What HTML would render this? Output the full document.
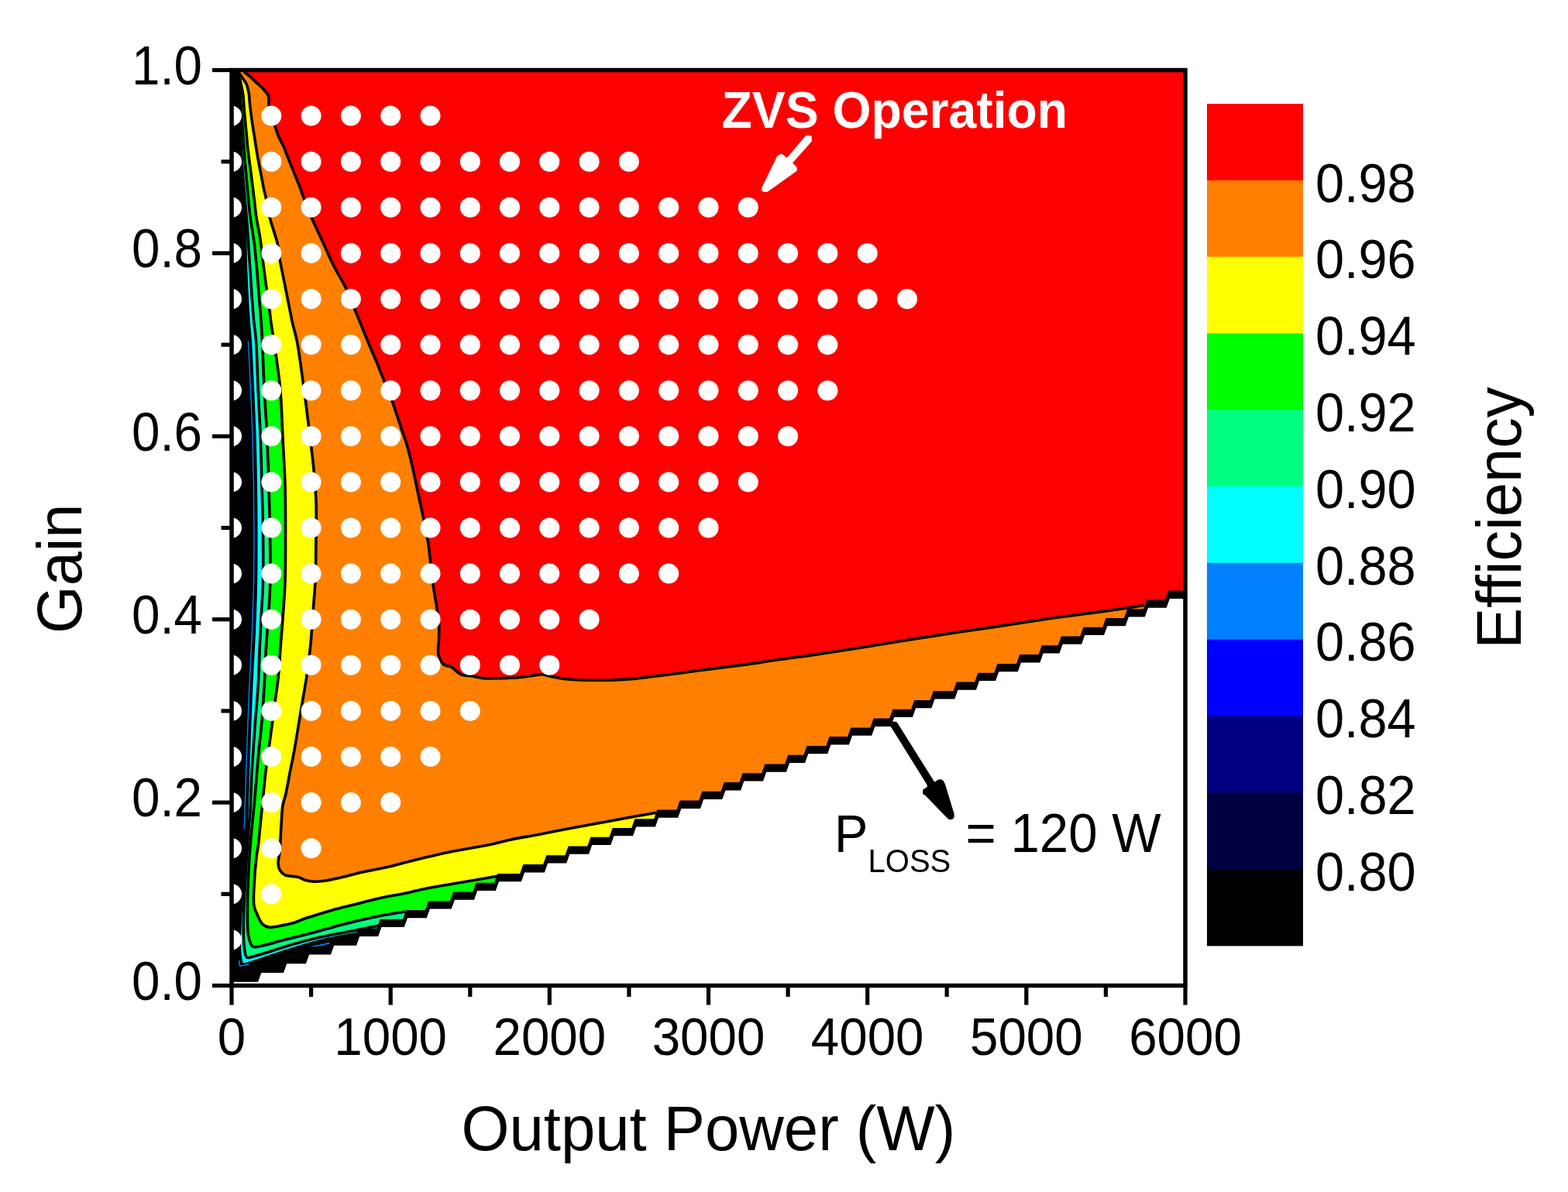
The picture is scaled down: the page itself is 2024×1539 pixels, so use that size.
<!DOCTYPE html><html><head><meta charset="utf-8"><title>Efficiency contour</title><style>html,body{margin:0;padding:0;background:#fff;overflow:hidden}svg{display:block}</style></head><body><svg width="2024" height="1539" viewBox="0 0 2024 1539">
<defs><clipPath id="pc"><rect x="300" y="91" width="1229" height="1180"/></clipPath></defs>
<rect x="0" y="0" width="2024" height="1539" fill="#fff"/>
<g clip-path="url(#pc)">
<rect x="300" y="91" width="1229" height="1180" fill="#ff0000"/>
<path d="M300,91 L315.0,93.0  C317.4,94.8 320.0,96.5 322.3,98.4 C324.6,100.3 326.6,102.6 328.8,104.6 C331.0,106.7 333.7,108.8 335.7,110.7 C337.4,112.3 338.7,113.7 340.2,115.3 C341.7,117.0 343.4,118.8 344.5,120.5 C345.5,122.0 346.3,123.1 346.8,125.0 C347.5,127.6 346.6,131.5 347.0,135.0 C347.5,139.1 348.7,143.5 350.0,148.0 C351.4,152.9 353.4,158.4 355.1,163.3 C356.6,167.8 357.8,172.0 359.6,176.3 C361.4,180.7 364.1,184.9 366.1,189.3 C368.0,193.6 369.6,198.0 371.3,202.3 C373.0,206.6 374.8,211.0 376.5,215.3 C378.2,219.6 380.0,224.0 381.7,228.3 C383.4,232.6 385.3,236.9 386.9,241.2 C388.5,245.5 389.6,249.2 391.5,254.2 C394.2,261.4 397.9,270.9 401.8,280.0 C406.3,290.6 412.4,303.2 417.4,314.0 C421.9,323.9 425.7,333.1 430.4,342.5 C435.2,352.1 441.3,361.2 446.0,371.0 C450.8,381.0 454.5,391.1 459.0,402.0 C464.0,414.0 469.7,428.5 474.5,440.0 C478.4,449.5 481.9,457.3 485.5,466.0 C489.1,474.6 492.4,483.3 495.9,492.0 C499.4,500.7 503.3,509.9 506.3,518.0 C508.8,524.9 510.6,531.0 512.8,537.5 C515.0,544.0 517.1,550.5 519.3,557.0 C521.5,563.5 523.8,569.5 525.8,576.5 C528.1,584.5 530.1,592.9 532.3,602.4 C534.9,613.7 537.8,628.3 540.3,640.0 C542.5,650.2 544.5,659.0 546.5,668.7 C548.5,678.7 550.8,689.2 552.4,699.1 C553.9,708.3 554.6,717.0 555.7,726.1 C556.8,735.5 557.7,745.1 559.1,754.9 C560.5,765.3 562.9,777.5 564.2,787.0 C565.3,794.5 566.3,800.7 566.7,807.2 C567.0,813.3 566.6,818.9 566.5,825.0 C566.4,831.5 564.6,839.4 565.9,845.2 C567.0,850.1 569.5,855.2 572.6,857.9 C575.3,860.2 579.4,859.5 582.8,861.3 C586.8,863.4 590.1,868.6 594.6,870.6 C599.1,872.6 604.9,872.2 609.8,873.1 C614.4,873.9 618.1,875.1 623.3,875.6 C630.1,876.2 639.3,875.7 647.0,875.6 C654.4,875.5 661.7,875.4 668.9,874.8 C676.0,874.2 684.2,872.6 690.0,871.9 C694.1,871.4 697.0,870.6 700.4,870.8 C703.9,871.0 707.1,872.5 710.8,873.3 C715.2,874.2 720.2,875.3 725.0,876.0 C729.9,876.7 734.7,877.1 739.8,877.5 C745.1,877.9 750.5,878.1 756.0,878.2 C761.6,878.3 767.3,878.3 773.0,878.3 C778.7,878.3 784.6,878.3 790.0,878.1 C794.9,877.9 799.3,877.7 804.1,877.4 C809.2,877.1 814.8,876.6 820.0,876.1 C825.2,875.6 829.9,875.0 835.3,874.4 C841.5,873.7 848.3,872.7 855.0,871.9 C862.1,871.0 868.4,870.3 876.8,869.2 C888.4,867.7 904.5,865.4 918.3,863.6 C932.1,861.8 946.0,860.3 959.8,858.4 C973.6,856.5 987.5,854.2 1001.3,852.2 C1015.1,850.2 1027.9,848.7 1042.8,846.6 C1060.3,844.1 1079.0,841.3 1100.0,838.0 C1126.0,833.9 1158.0,828.4 1187.0,823.9 C1216.0,819.4 1244.9,815.2 1273.9,810.9 C1302.9,806.5 1334.0,801.6 1360.9,797.8 C1384.2,794.5 1406.6,791.9 1426.1,789.1 C1442.1,786.8 1461.6,783.9 1469.6,782.6 C1472.7,782.1 1473.9,781.9 1476.0,781.5 L1476.0,1300 L300,1300 Z" fill="#ff8000"/>
<path d="M300,91 L307.5,93.0  C308.5,94.3 309.5,95.6 310.5,97.0 C311.5,98.4 312.5,100.0 313.5,101.4 C314.4,102.7 315.2,103.7 316.0,105.0 C316.9,106.4 317.8,107.7 318.5,109.5 C319.4,111.7 320.0,115.0 320.5,117.3 C320.9,119.2 321.3,120.7 321.5,122.5 C321.8,124.5 321.8,126.8 322.0,129.0 C322.2,131.2 322.4,133.3 322.6,135.5 C322.8,137.7 323.0,139.8 323.3,142.0 C323.6,144.1 323.9,146.0 324.2,148.4 C324.6,151.3 325.0,154.9 325.5,158.2 C326.0,161.4 326.5,164.8 327.0,167.9 C327.4,170.6 327.9,173.0 328.3,175.7 C328.7,178.5 329.2,181.6 329.6,184.2 C329.9,186.3 330.1,187.6 330.5,190.0 C331.1,193.8 332.1,200.1 333.0,204.9 C333.8,209.4 334.7,213.6 335.5,217.9 C336.3,222.2 337.2,226.6 338.0,230.9 C338.8,235.2 339.6,239.7 340.5,243.8 C341.3,247.5 342.1,249.9 343.0,254.2 C344.4,260.9 346.0,271.8 348.0,280.0 C349.9,287.7 352.8,296.0 354.6,302.1 C355.9,306.4 356.9,308.8 357.9,313.1 C359.3,319.2 360.0,328.4 361.2,335.2 C362.2,341.1 363.3,345.9 364.5,351.8 C365.9,358.6 367.4,366.5 368.9,373.9 C370.4,381.3 371.8,388.6 373.3,396.0 C374.8,403.4 376.1,410.8 377.8,418.1 C379.5,425.5 381.5,431.2 383.3,440.2 C386.0,453.8 388.6,474.7 391.0,492.0 C393.4,509.3 395.5,525.9 397.7,544.0 C400.1,563.8 403.2,587.3 405.0,606.0 C406.5,621.3 407.5,634.1 408.0,648.0 C408.5,661.7 408.1,674.0 408.0,689.0 C407.8,707.3 407.8,731.6 407.0,750.0 C406.3,765.2 404.9,777.7 403.9,791.6 C402.9,805.4 402.2,819.3 400.8,833.1 C399.4,847.0 397.5,861.9 395.6,874.7 C394.0,885.8 392.1,895.4 390.4,905.8 C388.7,916.2 386.9,926.6 385.2,937.0 C383.5,947.4 381.9,957.8 380.0,968.2 C378.1,978.6 375.8,989.4 373.8,999.4 C372.0,1008.7 370.3,1019.0 368.6,1026.4 C367.4,1031.7 365.9,1034.7 365.0,1040.0 C363.8,1047.2 363.6,1056.8 363.0,1066.0 C362.3,1076.2 361.9,1089.4 361.1,1098.5 C360.5,1105.1 358.8,1110.9 359.1,1115.4 C359.3,1118.5 359.8,1120.9 361.1,1123.2 C362.5,1125.7 364.6,1128.2 367.6,1129.7 C371.7,1131.8 379.8,1131.0 384.5,1132.3 C388.1,1133.3 390.4,1135.2 393.6,1136.2 C396.9,1137.2 400.3,1137.9 404.0,1138.1 C408.1,1138.4 412.0,1138.1 417.0,1137.5 C424.2,1136.6 434.4,1134.2 443.0,1132.3 C451.7,1130.3 459.9,1127.9 469.0,1125.8 C479.1,1123.5 490.3,1121.8 501.0,1119.3 C512.0,1116.8 523.2,1113.4 534.3,1110.7 C545.2,1108.0 556.1,1105.4 567.0,1103.0 C577.9,1100.6 588.7,1098.6 599.6,1096.5 C610.5,1094.4 621.8,1092.7 632.2,1090.5 C641.9,1088.5 650.3,1085.9 660.0,1083.9 C670.4,1081.7 681.7,1080.0 692.6,1077.9 C703.5,1075.8 714.3,1073.5 725.2,1071.4 C736.1,1069.3 746.9,1067.4 757.8,1065.4 C768.7,1063.4 779.5,1061.5 790.4,1059.5 C801.3,1057.5 813.0,1055.3 823.0,1053.5 C831.6,1052.0 839.0,1050.7 847.0,1049.3 L847.0,1300 L300,1300 Z" fill="#ffff00"/>
<path d="M300,91 L309.5,101.0  C310.3,104.9 311.3,109.0 312.0,112.7 C312.7,116.1 313.3,119.0 313.8,122.5 C314.3,126.5 314.5,131.2 314.8,135.5 C315.1,139.8 315.4,144.1 315.8,148.4 C316.2,152.7 316.6,157.1 317.0,161.4 C317.4,165.7 317.9,169.9 318.3,174.4 C318.8,179.4 319.1,184.9 319.6,190.0 C320.1,195.1 320.9,200.0 321.5,205.0 C322.2,210.0 322.8,214.6 323.5,220.0 C324.3,226.2 325.2,233.3 326.0,240.0 C326.8,246.7 327.7,253.3 328.5,260.0 C329.3,266.7 329.7,272.8 330.8,280.0 C332.1,288.5 334.4,298.4 335.8,307.6 C337.2,316.8 337.9,325.6 339.1,335.2 C340.4,345.8 342.1,357.8 343.5,368.4 C344.8,378.0 346.3,387.3 347.4,396.0 C348.4,403.8 349.1,410.8 350.1,418.1 C351.1,425.4 352.2,430.8 353.5,440.0 C355.7,455.4 359.8,481.2 361.7,502.0 C363.6,522.9 363.9,544.1 365.0,565.0 C366.0,585.7 367.4,606.3 368.0,627.0 C368.6,647.7 368.5,668.4 368.5,689.0 C368.5,709.4 368.6,731.6 368.0,750.0 C367.5,765.2 366.5,777.7 365.5,791.6 C364.6,805.4 363.3,819.3 362.3,833.1 C361.2,847.0 360.5,861.9 359.2,874.7 C358.0,885.8 356.4,895.4 355.0,905.8 C353.6,916.2 352.4,926.6 351.0,937.0 C349.6,947.4 348.2,957.8 346.8,968.2 C345.4,978.6 343.8,989.0 342.6,999.4 C341.4,1009.8 340.5,1020.3 339.5,1030.5 C338.5,1040.5 337.5,1050.1 336.5,1060.0 C335.5,1070.0 334.5,1081.7 333.5,1090.0 C332.8,1095.9 331.9,1098.8 331.2,1105.0 C330.0,1114.9 328.5,1132.3 328.0,1144.0 C327.6,1153.5 326.7,1163.1 328.0,1170.0 C328.9,1174.8 330.7,1177.9 332.5,1181.7 C334.4,1185.6 336.1,1190.7 339.0,1193.3 C341.5,1195.5 344.9,1196.7 348.1,1197.2 C351.4,1197.7 354.4,1196.6 358.5,1195.9 C364.4,1194.9 373.7,1193.2 380.0,1191.3 C385.2,1189.7 389.2,1187.4 393.8,1185.8 C398.4,1184.2 402.3,1183.2 407.7,1181.6 C415.3,1179.3 426.1,1175.8 435.3,1173.3 C444.5,1170.8 453.8,1168.7 463.0,1166.4 C472.2,1164.1 483.0,1161.2 490.7,1159.5 C496.1,1158.3 499.8,1157.6 504.5,1156.7 C509.5,1155.8 514.2,1155.2 520.0,1154.0 C527.4,1152.5 536.2,1150.1 545.2,1148.2 C555.3,1146.1 566.9,1144.1 577.8,1142.2 C588.7,1140.3 599.6,1138.5 610.4,1136.7 C621.0,1134.9 631.5,1133.1 642.0,1131.3 L642.0,1300 L300,1300 Z" fill="#00ff00"/>
<path d="M300,91 L310.5,128.0  C311.0,135.7 311.5,143.7 312.0,151.0 C312.5,157.6 313.0,163.6 313.5,170.0 C314.0,176.6 314.3,182.8 314.8,190.0 C315.4,198.6 316.2,208.4 317.0,218.0 C317.9,228.3 319.0,239.5 320.0,250.0 C321.0,260.2 321.7,269.8 323.0,280.0 C324.4,290.8 326.6,302.0 328.0,313.1 C329.4,324.1 330.4,335.2 331.4,346.3 C332.4,357.3 333.2,368.4 334.1,379.4 C335.0,390.5 336.1,402.1 336.9,412.6 C337.6,422.2 338.0,429.1 338.5,440.0 C339.3,456.1 340.0,480.0 341.0,500.0 C342.0,520.0 343.5,539.4 344.5,560.0 C345.5,581.7 346.3,605.1 347.0,627.0 C347.6,648.1 348.2,668.4 348.5,689.0 C348.8,709.4 349.2,731.6 348.8,750.0 C348.5,765.2 347.7,777.7 346.8,791.6 C345.9,805.4 344.5,819.3 343.6,833.1 C342.7,847.0 342.4,860.1 341.6,874.7 C340.7,891.0 339.8,909.3 338.4,926.6 C337.0,943.9 334.8,960.9 333.2,978.6 C331.5,997.0 330.0,1018.4 328.5,1035.0 C327.3,1048.1 326.1,1058.3 325.0,1070.0 C323.9,1081.7 322.9,1091.5 322.1,1105.0 C321.0,1123.3 319.6,1151.1 319.5,1170.0 C319.5,1184.7 318.8,1199.6 320.8,1209.0 C322.0,1214.6 323.3,1220.1 326.0,1222.0 C328.0,1223.4 330.4,1222.4 333.8,1222.0 C340.8,1221.1 354.0,1216.9 365.0,1214.1 C377.3,1211.0 391.0,1207.6 404.0,1204.2 C417.0,1200.8 430.0,1196.8 443.0,1193.5 C456.0,1190.2 471.5,1186.6 482.0,1184.3 C489.1,1182.8 493.6,1181.9 500.0,1180.8 C507.2,1179.5 515.3,1178.3 523.0,1177.0 L523.0,1300 L300,1300 Z" fill="#00ff80"/>
<path d="M300,91 L311.0,200.0  C312.5,216.7 314.1,234.3 315.5,250.0 C316.7,264.1 317.9,275.5 319.0,290.0 C320.3,307.1 321.4,326.6 322.7,346.0 C324.1,367.1 325.8,394.7 327.4,412.0 C328.4,423.3 329.7,428.9 330.5,440.0 C331.7,456.2 332.1,480.0 333.0,500.0 C333.9,520.0 335.2,539.4 336.0,560.0 C336.9,581.7 337.4,605.1 338.0,627.0 C338.6,648.1 339.3,668.4 339.5,689.0 C339.7,709.4 340.0,731.6 339.5,750.0 C339.1,765.2 338.1,777.7 337.4,791.6 C336.7,805.4 336.0,818.5 335.3,833.1 C334.6,849.4 334.2,867.7 333.2,885.0 C332.2,902.3 330.4,918.9 329.1,937.0 C327.7,956.8 326.0,980.8 325.0,999.4 C324.2,1014.4 324.1,1027.5 323.4,1040.0 C322.8,1050.8 321.9,1058.2 321.0,1070.0 C319.8,1086.8 318.0,1110.3 316.9,1131.0 C315.8,1152.3 314.3,1178.6 314.3,1196.0 C314.3,1207.6 314.4,1217.7 315.5,1225.0 C316.2,1229.6 316.4,1234.5 318.5,1236.0 C320.1,1237.1 322.5,1236.0 325.0,1235.5 C328.8,1234.8 333.2,1233.2 339.0,1231.5 C348.8,1228.6 365.0,1223.0 378.0,1219.3 C391.0,1215.6 404.0,1212.2 417.0,1209.3 C430.0,1206.4 443.6,1204.3 456.0,1201.8 C467.3,1199.5 481.4,1196.7 488.4,1195.0 C491.8,1194.2 493.5,1193.7 496.0,1193.0 L496.0,1300 L300,1300 Z" fill="#00ffff"/>
<path d="M300,91 L307.5,91.0  C308.2,93.0 309.0,95.2 309.5,97.0 C309.9,98.5 310.2,99.4 310.5,101.0 C310.9,103.4 311.1,106.9 311.3,110.0 C311.6,113.2 311.9,116.9 312.0,120.0 C312.1,122.8 312.3,125.1 312.2,128.0 C312.1,131.6 311.2,136.1 311.0,140.0 C310.8,143.7 310.9,146.8 311.0,151.0 C311.1,156.5 311.7,163.6 312.0,170.0 C312.3,176.6 312.6,182.8 313.0,190.0 C313.4,198.6 313.9,208.4 314.5,218.0 C315.1,228.3 315.9,239.5 316.5,250.0 C317.1,260.2 317.6,268.1 318.0,280.0 C318.6,297.7 318.5,324.0 319.3,346.0 C320.1,368.0 321.5,394.7 322.7,412.0 C323.5,423.3 324.3,428.9 325.0,440.0 C326.1,456.2 327.1,480.0 328.0,500.0 C328.9,520.0 329.8,539.4 330.5,560.0 C331.2,581.7 331.7,605.1 332.0,627.0 C332.3,648.1 332.5,668.4 332.5,689.0 C332.5,709.4 332.6,729.6 332.2,750.0 C331.8,770.7 331.1,790.0 330.2,812.3 C329.1,838.0 327.2,867.8 326.0,895.5 C324.8,923.2 323.9,950.3 322.9,978.6 C321.8,1008.3 321.1,1042.4 319.8,1069.8 C318.7,1092.2 317.3,1110.8 316.0,1131.0 C314.7,1150.8 312.8,1173.3 312.0,1190.0 C311.4,1202.3 310.7,1213.2 311.0,1222.0 C311.2,1228.3 311.8,1234.2 312.5,1238.0 C312.9,1240.2 312.8,1242.3 314.0,1243.0 C315.2,1243.8 317.4,1242.6 320.0,1242.0 C324.7,1240.8 332.3,1238.0 340.0,1235.5 C350.7,1232.0 365.2,1226.9 378.0,1223.0 C390.9,1219.1 403.8,1215.2 417.0,1212.0 C430.4,1208.8 448.4,1205.7 458.0,1204.0 C463.2,1203.1 466.0,1202.7 470.0,1202.0 L470.0,1300 L300,1300 Z" fill="#000000"/>
<polyline points="320.4,440.0 323.4,500.0 325.9,560.0 327.4,627.0 327.9,689.0 327.6,750.0 325.6,812.3 321.4,895.5 318.3,978.6 315.2,1069.8" fill="none" stroke="#0080ff" stroke-width="1.4"/>
<polyline points="308.5,1240 309.5,1247 315,1246.5 321,1244.5" fill="none" stroke="#0080ff" stroke-width="1.6"/>
<polyline points="400.5,1222.8 412,1220.6 425.5,1217.6" fill="none" stroke="#0080ff" stroke-width="1.8"/>
<polyline points="315.6,240.0 317.6,270.0 319.8,300.0 320.6,346.0 323.5,400.0" fill="none" stroke="#00ffff" stroke-width="1.6"/>
<path d="M315.0,93.0 C317.4,94.8 320.0,96.5 322.3,98.4 C324.6,100.3 326.6,102.6 328.8,104.6 C331.0,106.7 333.7,108.8 335.7,110.7 C337.4,112.3 338.7,113.7 340.2,115.3 C341.7,117.0 343.4,118.8 344.5,120.5 C345.5,122.0 346.3,123.1 346.8,125.0 C347.5,127.6 346.6,131.5 347.0,135.0 C347.5,139.1 348.7,143.5 350.0,148.0 C351.4,152.9 353.4,158.4 355.1,163.3 C356.6,167.8 357.8,172.0 359.6,176.3 C361.4,180.7 364.1,184.9 366.1,189.3 C368.0,193.6 369.6,198.0 371.3,202.3 C373.0,206.6 374.8,211.0 376.5,215.3 C378.2,219.6 380.0,224.0 381.7,228.3 C383.4,232.6 385.3,236.9 386.9,241.2 C388.5,245.5 389.6,249.2 391.5,254.2 C394.2,261.4 397.9,270.9 401.8,280.0 C406.3,290.6 412.4,303.2 417.4,314.0 C421.9,323.9 425.7,333.1 430.4,342.5 C435.2,352.1 441.3,361.2 446.0,371.0 C450.8,381.0 454.5,391.1 459.0,402.0 C464.0,414.0 469.7,428.5 474.5,440.0 C478.4,449.5 481.9,457.3 485.5,466.0 C489.1,474.6 492.4,483.3 495.9,492.0 C499.4,500.7 503.3,509.9 506.3,518.0 C508.8,524.9 510.6,531.0 512.8,537.5 C515.0,544.0 517.1,550.5 519.3,557.0 C521.5,563.5 523.8,569.5 525.8,576.5 C528.1,584.5 530.1,592.9 532.3,602.4 C534.9,613.7 537.8,628.3 540.3,640.0 C542.5,650.2 544.5,659.0 546.5,668.7 C548.5,678.7 550.8,689.2 552.4,699.1 C553.9,708.3 554.6,717.0 555.7,726.1 C556.8,735.5 557.7,745.1 559.1,754.9 C560.5,765.3 562.9,777.5 564.2,787.0 C565.3,794.5 566.3,800.7 566.7,807.2 C567.0,813.3 566.6,818.9 566.5,825.0 C566.4,831.5 564.6,839.4 565.9,845.2 C567.0,850.1 569.5,855.2 572.6,857.9 C575.3,860.2 579.4,859.5 582.8,861.3 C586.8,863.4 590.1,868.6 594.6,870.6 C599.1,872.6 604.9,872.2 609.8,873.1 C614.4,873.9 618.1,875.1 623.3,875.6 C630.1,876.2 639.3,875.7 647.0,875.6 C654.4,875.5 661.7,875.4 668.9,874.8 C676.0,874.2 684.2,872.6 690.0,871.9 C694.1,871.4 697.0,870.6 700.4,870.8 C703.9,871.0 707.1,872.5 710.8,873.3 C715.2,874.2 720.2,875.3 725.0,876.0 C729.9,876.7 734.7,877.1 739.8,877.5 C745.1,877.9 750.5,878.1 756.0,878.2 C761.6,878.3 767.3,878.3 773.0,878.3 C778.7,878.3 784.6,878.3 790.0,878.1 C794.9,877.9 799.3,877.7 804.1,877.4 C809.2,877.1 814.8,876.6 820.0,876.1 C825.2,875.6 829.9,875.0 835.3,874.4 C841.5,873.7 848.3,872.7 855.0,871.9 C862.1,871.0 868.4,870.3 876.8,869.2 C888.4,867.7 904.5,865.4 918.3,863.6 C932.1,861.8 946.0,860.3 959.8,858.4 C973.6,856.5 987.5,854.2 1001.3,852.2 C1015.1,850.2 1027.9,848.7 1042.8,846.6 C1060.3,844.1 1079.0,841.3 1100.0,838.0 C1126.0,833.9 1158.0,828.4 1187.0,823.9 C1216.0,819.4 1244.9,815.2 1273.9,810.9 C1302.9,806.5 1334.0,801.6 1360.9,797.8 C1384.2,794.5 1406.6,791.9 1426.1,789.1 C1442.1,786.8 1461.6,783.9 1469.6,782.6 C1472.7,782.1 1473.9,781.9 1476.0,781.5" fill="none" stroke="#000" stroke-width="3.6" stroke-linejoin="round"/>
<path d="M307.5,93.0 C308.5,94.3 309.5,95.6 310.5,97.0 C311.5,98.4 312.5,100.0 313.5,101.4 C314.4,102.7 315.2,103.7 316.0,105.0 C316.9,106.4 317.8,107.7 318.5,109.5 C319.4,111.7 320.0,115.0 320.5,117.3 C320.9,119.2 321.3,120.7 321.5,122.5 C321.8,124.5 321.8,126.8 322.0,129.0 C322.2,131.2 322.4,133.3 322.6,135.5 C322.8,137.7 323.0,139.8 323.3,142.0 C323.6,144.1 323.9,146.0 324.2,148.4 C324.6,151.3 325.0,154.9 325.5,158.2 C326.0,161.4 326.5,164.8 327.0,167.9 C327.4,170.6 327.9,173.0 328.3,175.7 C328.7,178.5 329.2,181.6 329.6,184.2 C329.9,186.3 330.1,187.6 330.5,190.0 C331.1,193.8 332.1,200.1 333.0,204.9 C333.8,209.4 334.7,213.6 335.5,217.9 C336.3,222.2 337.2,226.6 338.0,230.9 C338.8,235.2 339.6,239.7 340.5,243.8 C341.3,247.5 342.1,249.9 343.0,254.2 C344.4,260.9 346.0,271.8 348.0,280.0 C349.9,287.7 352.8,296.0 354.6,302.1 C355.9,306.4 356.9,308.8 357.9,313.1 C359.3,319.2 360.0,328.4 361.2,335.2 C362.2,341.1 363.3,345.9 364.5,351.8 C365.9,358.6 367.4,366.5 368.9,373.9 C370.4,381.3 371.8,388.6 373.3,396.0 C374.8,403.4 376.1,410.8 377.8,418.1 C379.5,425.5 381.5,431.2 383.3,440.2 C386.0,453.8 388.6,474.7 391.0,492.0 C393.4,509.3 395.5,525.9 397.7,544.0 C400.1,563.8 403.2,587.3 405.0,606.0 C406.5,621.3 407.5,634.1 408.0,648.0 C408.5,661.7 408.1,674.0 408.0,689.0 C407.8,707.3 407.8,731.6 407.0,750.0 C406.3,765.2 404.9,777.7 403.9,791.6 C402.9,805.4 402.2,819.3 400.8,833.1 C399.4,847.0 397.5,861.9 395.6,874.7 C394.0,885.8 392.1,895.4 390.4,905.8 C388.7,916.2 386.9,926.6 385.2,937.0 C383.5,947.4 381.9,957.8 380.0,968.2 C378.1,978.6 375.8,989.4 373.8,999.4 C372.0,1008.7 370.3,1019.0 368.6,1026.4 C367.4,1031.7 365.9,1034.7 365.0,1040.0 C363.8,1047.2 363.6,1056.8 363.0,1066.0 C362.3,1076.2 361.9,1089.4 361.1,1098.5 C360.5,1105.1 358.8,1110.9 359.1,1115.4 C359.3,1118.5 359.8,1120.9 361.1,1123.2 C362.5,1125.7 364.6,1128.2 367.6,1129.7 C371.7,1131.8 379.8,1131.0 384.5,1132.3 C388.1,1133.3 390.4,1135.2 393.6,1136.2 C396.9,1137.2 400.3,1137.9 404.0,1138.1 C408.1,1138.4 412.0,1138.1 417.0,1137.5 C424.2,1136.6 434.4,1134.2 443.0,1132.3 C451.7,1130.3 459.9,1127.9 469.0,1125.8 C479.1,1123.5 490.3,1121.8 501.0,1119.3 C512.0,1116.8 523.2,1113.4 534.3,1110.7 C545.2,1108.0 556.1,1105.4 567.0,1103.0 C577.9,1100.6 588.7,1098.6 599.6,1096.5 C610.5,1094.4 621.8,1092.7 632.2,1090.5 C641.9,1088.5 650.3,1085.9 660.0,1083.9 C670.4,1081.7 681.7,1080.0 692.6,1077.9 C703.5,1075.8 714.3,1073.5 725.2,1071.4 C736.1,1069.3 746.9,1067.4 757.8,1065.4 C768.7,1063.4 779.5,1061.5 790.4,1059.5 C801.3,1057.5 813.0,1055.3 823.0,1053.5 C831.6,1052.0 839.0,1050.7 847.0,1049.3" fill="none" stroke="#000" stroke-width="3.6" stroke-linejoin="round"/>
<path d="M309.5,101.0 C310.3,104.9 311.3,109.0 312.0,112.7 C312.7,116.1 313.3,119.0 313.8,122.5 C314.3,126.5 314.5,131.2 314.8,135.5 C315.1,139.8 315.4,144.1 315.8,148.4 C316.2,152.7 316.6,157.1 317.0,161.4 C317.4,165.7 317.9,169.9 318.3,174.4 C318.8,179.4 319.1,184.9 319.6,190.0 C320.1,195.1 320.9,200.0 321.5,205.0 C322.2,210.0 322.8,214.6 323.5,220.0 C324.3,226.2 325.2,233.3 326.0,240.0 C326.8,246.7 327.7,253.3 328.5,260.0 C329.3,266.7 329.7,272.8 330.8,280.0 C332.1,288.5 334.4,298.4 335.8,307.6 C337.2,316.8 337.9,325.6 339.1,335.2 C340.4,345.8 342.1,357.8 343.5,368.4 C344.8,378.0 346.3,387.3 347.4,396.0 C348.4,403.8 349.1,410.8 350.1,418.1 C351.1,425.4 352.2,430.8 353.5,440.0 C355.7,455.4 359.8,481.2 361.7,502.0 C363.6,522.9 363.9,544.1 365.0,565.0 C366.0,585.7 367.4,606.3 368.0,627.0 C368.6,647.7 368.5,668.4 368.5,689.0 C368.5,709.4 368.6,731.6 368.0,750.0 C367.5,765.2 366.5,777.7 365.5,791.6 C364.6,805.4 363.3,819.3 362.3,833.1 C361.2,847.0 360.5,861.9 359.2,874.7 C358.0,885.8 356.4,895.4 355.0,905.8 C353.6,916.2 352.4,926.6 351.0,937.0 C349.6,947.4 348.2,957.8 346.8,968.2 C345.4,978.6 343.8,989.0 342.6,999.4 C341.4,1009.8 340.5,1020.3 339.5,1030.5 C338.5,1040.5 337.5,1050.1 336.5,1060.0 C335.5,1070.0 334.5,1081.7 333.5,1090.0 C332.8,1095.9 331.9,1098.8 331.2,1105.0 C330.0,1114.9 328.5,1132.3 328.0,1144.0 C327.6,1153.5 326.7,1163.1 328.0,1170.0 C328.9,1174.8 330.7,1177.9 332.5,1181.7 C334.4,1185.6 336.1,1190.7 339.0,1193.3 C341.5,1195.5 344.9,1196.7 348.1,1197.2 C351.4,1197.7 354.4,1196.6 358.5,1195.9 C364.4,1194.9 373.7,1193.2 380.0,1191.3 C385.2,1189.7 389.2,1187.4 393.8,1185.8 C398.4,1184.2 402.3,1183.2 407.7,1181.6 C415.3,1179.3 426.1,1175.8 435.3,1173.3 C444.5,1170.8 453.8,1168.7 463.0,1166.4 C472.2,1164.1 483.0,1161.2 490.7,1159.5 C496.1,1158.3 499.8,1157.6 504.5,1156.7 C509.5,1155.8 514.2,1155.2 520.0,1154.0 C527.4,1152.5 536.2,1150.1 545.2,1148.2 C555.3,1146.1 566.9,1144.1 577.8,1142.2 C588.7,1140.3 599.6,1138.5 610.4,1136.7 C621.0,1134.9 631.5,1133.1 642.0,1131.3" fill="none" stroke="#000" stroke-width="3.6" stroke-linejoin="round"/>
<path d="M310.5,128.0 C311.0,135.7 311.5,143.7 312.0,151.0 C312.5,157.6 313.0,163.6 313.5,170.0 C314.0,176.6 314.3,182.8 314.8,190.0 C315.4,198.6 316.2,208.4 317.0,218.0 C317.9,228.3 319.0,239.5 320.0,250.0 C321.0,260.2 321.7,269.8 323.0,280.0 C324.4,290.8 326.6,302.0 328.0,313.1 C329.4,324.1 330.4,335.2 331.4,346.3 C332.4,357.3 333.2,368.4 334.1,379.4 C335.0,390.5 336.1,402.1 336.9,412.6 C337.6,422.2 338.0,429.1 338.5,440.0 C339.3,456.1 340.0,480.0 341.0,500.0 C342.0,520.0 343.5,539.4 344.5,560.0 C345.5,581.7 346.3,605.1 347.0,627.0 C347.6,648.1 348.2,668.4 348.5,689.0 C348.8,709.4 349.2,731.6 348.8,750.0 C348.5,765.2 347.7,777.7 346.8,791.6 C345.9,805.4 344.5,819.3 343.6,833.1 C342.7,847.0 342.4,860.1 341.6,874.7 C340.7,891.0 339.8,909.3 338.4,926.6 C337.0,943.9 334.8,960.9 333.2,978.6 C331.5,997.0 330.0,1018.4 328.5,1035.0 C327.3,1048.1 326.1,1058.3 325.0,1070.0 C323.9,1081.7 322.9,1091.5 322.1,1105.0 C321.0,1123.3 319.6,1151.1 319.5,1170.0 C319.5,1184.7 318.8,1199.6 320.8,1209.0 C322.0,1214.6 323.3,1220.1 326.0,1222.0 C328.0,1223.4 330.4,1222.4 333.8,1222.0 C340.8,1221.1 354.0,1216.9 365.0,1214.1 C377.3,1211.0 391.0,1207.6 404.0,1204.2 C417.0,1200.8 430.0,1196.8 443.0,1193.5 C456.0,1190.2 471.5,1186.6 482.0,1184.3 C489.1,1182.8 493.6,1181.9 500.0,1180.8 C507.2,1179.5 515.3,1178.3 523.0,1177.0" fill="none" stroke="#000" stroke-width="3.6" stroke-linejoin="round"/>
<path d="M311.0,200.0 C312.5,216.7 314.1,234.3 315.5,250.0 C316.7,264.1 317.9,275.5 319.0,290.0 C320.3,307.1 321.4,326.6 322.7,346.0 C324.1,367.1 325.8,394.7 327.4,412.0 C328.4,423.3 329.7,428.9 330.5,440.0 C331.7,456.2 332.1,480.0 333.0,500.0 C333.9,520.0 335.2,539.4 336.0,560.0 C336.9,581.7 337.4,605.1 338.0,627.0 C338.6,648.1 339.3,668.4 339.5,689.0 C339.7,709.4 340.0,731.6 339.5,750.0 C339.1,765.2 338.1,777.7 337.4,791.6 C336.7,805.4 336.0,818.5 335.3,833.1 C334.6,849.4 334.2,867.7 333.2,885.0 C332.2,902.3 330.4,918.9 329.1,937.0 C327.7,956.8 326.0,980.8 325.0,999.4 C324.2,1014.4 324.1,1027.5 323.4,1040.0 C322.8,1050.8 321.9,1058.2 321.0,1070.0 C319.8,1086.8 318.0,1110.3 316.9,1131.0 C315.8,1152.3 314.3,1178.6 314.3,1196.0 C314.3,1207.6 314.4,1217.7 315.5,1225.0 C316.2,1229.6 316.4,1234.5 318.5,1236.0 C320.1,1237.1 322.5,1236.0 325.0,1235.5 C328.8,1234.8 333.2,1233.2 339.0,1231.5 C348.8,1228.6 365.0,1223.0 378.0,1219.3 C391.0,1215.6 404.0,1212.2 417.0,1209.3 C430.0,1206.4 443.6,1204.3 456.0,1201.8 C467.3,1199.5 481.4,1196.7 488.4,1195.0 C491.8,1194.2 493.5,1193.7 496.0,1193.0" fill="none" stroke="#000" stroke-width="3.6" stroke-linejoin="round"/>
<polygon points="300.0,1257.5 331.3,1257.5 335.5,1245.7 364.2,1245.7 368.4,1233.9 393.1,1233.9 397.3,1222.2 425.2,1222.2 429.4,1210.4 458.2,1210.4 462.4,1198.6 486.4,1198.6 490.6,1186.8 520.0,1186.8 524.2,1175.0 548.9,1175.0 553.1,1163.2 580.9,1163.2 585.1,1151.5 610.2,1151.5 614.4,1139.7 638.0,1139.7 642.2,1127.9 671.1,1127.9 675.3,1116.1 701.1,1116.1 705.3,1104.3 729.4,1104.3 733.6,1092.5 758.2,1092.5 762.4,1080.8 786.5,1080.8 790.7,1069.0 815.2,1069.0 819.4,1057.2 844.1,1057.2 848.3,1045.4 873.4,1045.4 877.6,1033.6 902.2,1033.6 906.4,1021.8 930.5,1021.8 934.7,1010.1 954.4,1010.1 958.6,998.3 983.2,998.3 987.4,986.5 1013.1,986.5 1017.3,974.7 1037.3,974.7 1041.5,962.9 1066.4,962.9 1070.6,951.1 1094.1,951.1 1098.3,939.4 1123.4,939.4 1127.6,927.6 1148.2,927.6 1152.4,915.8 1176.1,915.8 1180.3,904.0 1200.6,904.0 1204.8,892.2 1230.5,892.2 1234.7,880.4 1258.2,880.4 1262.4,868.7 1283.3,868.7 1287.5,856.9 1312.0,856.9 1316.2,845.1 1340.6,845.1 1344.8,833.3 1365.7,833.3 1369.9,821.5 1394.3,821.5 1398.5,809.7 1423.3,809.7 1427.5,798.0 1450.9,798.0 1455.1,786.2 1476.0,786.2 1480.2,774.4 1503.9,774.4 1508.1,762.6 1529.0,762.6 1529.0,1300.0 300.0,1300.0" fill="#000"/>
<polygon points="300.0,1267.8 333.1,1267.8 337.3,1256.0 366.0,1256.0 370.2,1244.2 394.9,1244.2 399.1,1232.5 427.0,1232.5 431.2,1220.7 460.0,1220.7 464.2,1208.9 488.2,1208.9 492.4,1197.1 521.8,1197.1 526.0,1185.3 550.7,1185.3 554.9,1173.5 582.7,1173.5 586.9,1161.8 612.0,1161.8 616.2,1150.0 639.8,1150.0 644.0,1138.2 672.9,1138.2 677.1,1126.4 702.9,1126.4 707.1,1114.6 731.2,1114.6 735.4,1102.8 760.0,1102.8 764.2,1091.1 788.3,1091.1 792.5,1079.3 817.0,1079.3 821.2,1067.5 845.9,1067.5 850.1,1055.7 875.2,1055.7 879.4,1043.9 904.0,1043.9 908.2,1032.1 932.3,1032.1 936.5,1020.4 956.2,1020.4 960.4,1008.6 985.0,1008.6 989.2,996.8 1014.9,996.8 1019.1,985.0 1039.1,985.0 1043.3,973.2 1068.2,973.2 1072.4,961.4 1095.9,961.4 1100.1,949.7 1125.2,949.7 1129.4,937.9 1150.0,937.9 1154.2,926.1 1177.9,926.1 1182.1,914.3 1202.4,914.3 1206.6,902.5 1232.3,902.5 1236.5,890.7 1260.0,890.7 1264.2,879.0 1285.1,879.0 1289.3,867.2 1313.8,867.2 1318.0,855.4 1342.4,855.4 1346.6,843.6 1367.5,843.6 1371.7,831.8 1396.1,831.8 1400.3,820.0 1425.1,820.0 1429.3,808.3 1452.7,808.3 1456.9,796.5 1477.8,796.5 1482.0,784.7 1505.7,784.7 1509.9,772.9 1529.0,772.9 1529.0,1300.0 300.0,1300.0" fill="#fff"/>
<g fill="#fff"><circle cx="299.0" cy="149.6" r="13"/><circle cx="350.3" cy="149.6" r="13"/><circle cx="401.6" cy="149.6" r="13"/><circle cx="452.9" cy="149.6" r="13"/><circle cx="504.2" cy="149.6" r="13"/><circle cx="555.5" cy="149.6" r="13"/><circle cx="299.0" cy="208.7" r="13"/><circle cx="350.3" cy="208.7" r="13"/><circle cx="401.6" cy="208.7" r="13"/><circle cx="452.9" cy="208.7" r="13"/><circle cx="504.2" cy="208.7" r="13"/><circle cx="555.5" cy="208.7" r="13"/><circle cx="606.8" cy="208.7" r="13"/><circle cx="658.0" cy="208.7" r="13"/><circle cx="709.3" cy="208.7" r="13"/><circle cx="760.6" cy="208.7" r="13"/><circle cx="811.9" cy="208.7" r="13"/><circle cx="299.0" cy="267.8" r="13"/><circle cx="350.3" cy="267.8" r="13"/><circle cx="401.6" cy="267.8" r="13"/><circle cx="452.9" cy="267.8" r="13"/><circle cx="504.2" cy="267.8" r="13"/><circle cx="555.5" cy="267.8" r="13"/><circle cx="606.8" cy="267.8" r="13"/><circle cx="658.0" cy="267.8" r="13"/><circle cx="709.3" cy="267.8" r="13"/><circle cx="760.6" cy="267.8" r="13"/><circle cx="811.9" cy="267.8" r="13"/><circle cx="863.2" cy="267.8" r="13"/><circle cx="914.5" cy="267.8" r="13"/><circle cx="965.8" cy="267.8" r="13"/><circle cx="299.0" cy="326.9" r="13"/><circle cx="350.3" cy="326.9" r="13"/><circle cx="401.6" cy="326.9" r="13"/><circle cx="452.9" cy="326.9" r="13"/><circle cx="504.2" cy="326.9" r="13"/><circle cx="555.5" cy="326.9" r="13"/><circle cx="606.8" cy="326.9" r="13"/><circle cx="658.0" cy="326.9" r="13"/><circle cx="709.3" cy="326.9" r="13"/><circle cx="760.6" cy="326.9" r="13"/><circle cx="811.9" cy="326.9" r="13"/><circle cx="863.2" cy="326.9" r="13"/><circle cx="914.5" cy="326.9" r="13"/><circle cx="965.8" cy="326.9" r="13"/><circle cx="1017.1" cy="326.9" r="13"/><circle cx="1068.4" cy="326.9" r="13"/><circle cx="1119.7" cy="326.9" r="13"/><circle cx="299.0" cy="386.0" r="13"/><circle cx="350.3" cy="386.0" r="13"/><circle cx="401.6" cy="386.0" r="13"/><circle cx="452.9" cy="386.0" r="13"/><circle cx="504.2" cy="386.0" r="13"/><circle cx="555.5" cy="386.0" r="13"/><circle cx="606.8" cy="386.0" r="13"/><circle cx="658.0" cy="386.0" r="13"/><circle cx="709.3" cy="386.0" r="13"/><circle cx="760.6" cy="386.0" r="13"/><circle cx="811.9" cy="386.0" r="13"/><circle cx="863.2" cy="386.0" r="13"/><circle cx="914.5" cy="386.0" r="13"/><circle cx="965.8" cy="386.0" r="13"/><circle cx="1017.1" cy="386.0" r="13"/><circle cx="1068.4" cy="386.0" r="13"/><circle cx="1119.7" cy="386.0" r="13"/><circle cx="1171.0" cy="386.0" r="13"/><circle cx="299.0" cy="445.1" r="13"/><circle cx="350.3" cy="445.1" r="13"/><circle cx="401.6" cy="445.1" r="13"/><circle cx="452.9" cy="445.1" r="13"/><circle cx="504.2" cy="445.1" r="13"/><circle cx="555.5" cy="445.1" r="13"/><circle cx="606.8" cy="445.1" r="13"/><circle cx="658.0" cy="445.1" r="13"/><circle cx="709.3" cy="445.1" r="13"/><circle cx="760.6" cy="445.1" r="13"/><circle cx="811.9" cy="445.1" r="13"/><circle cx="863.2" cy="445.1" r="13"/><circle cx="914.5" cy="445.1" r="13"/><circle cx="965.8" cy="445.1" r="13"/><circle cx="1017.1" cy="445.1" r="13"/><circle cx="1068.4" cy="445.1" r="13"/><circle cx="299.0" cy="504.2" r="13"/><circle cx="350.3" cy="504.2" r="13"/><circle cx="401.6" cy="504.2" r="13"/><circle cx="452.9" cy="504.2" r="13"/><circle cx="504.2" cy="504.2" r="13"/><circle cx="555.5" cy="504.2" r="13"/><circle cx="606.8" cy="504.2" r="13"/><circle cx="658.0" cy="504.2" r="13"/><circle cx="709.3" cy="504.2" r="13"/><circle cx="760.6" cy="504.2" r="13"/><circle cx="811.9" cy="504.2" r="13"/><circle cx="863.2" cy="504.2" r="13"/><circle cx="914.5" cy="504.2" r="13"/><circle cx="965.8" cy="504.2" r="13"/><circle cx="1017.1" cy="504.2" r="13"/><circle cx="1068.4" cy="504.2" r="13"/><circle cx="299.0" cy="563.3" r="13"/><circle cx="350.3" cy="563.3" r="13"/><circle cx="401.6" cy="563.3" r="13"/><circle cx="452.9" cy="563.3" r="13"/><circle cx="504.2" cy="563.3" r="13"/><circle cx="555.5" cy="563.3" r="13"/><circle cx="606.8" cy="563.3" r="13"/><circle cx="658.0" cy="563.3" r="13"/><circle cx="709.3" cy="563.3" r="13"/><circle cx="760.6" cy="563.3" r="13"/><circle cx="811.9" cy="563.3" r="13"/><circle cx="863.2" cy="563.3" r="13"/><circle cx="914.5" cy="563.3" r="13"/><circle cx="965.8" cy="563.3" r="13"/><circle cx="1017.1" cy="563.3" r="13"/><circle cx="299.0" cy="622.4" r="13"/><circle cx="350.3" cy="622.4" r="13"/><circle cx="401.6" cy="622.4" r="13"/><circle cx="452.9" cy="622.4" r="13"/><circle cx="504.2" cy="622.4" r="13"/><circle cx="555.5" cy="622.4" r="13"/><circle cx="606.8" cy="622.4" r="13"/><circle cx="658.0" cy="622.4" r="13"/><circle cx="709.3" cy="622.4" r="13"/><circle cx="760.6" cy="622.4" r="13"/><circle cx="811.9" cy="622.4" r="13"/><circle cx="863.2" cy="622.4" r="13"/><circle cx="914.5" cy="622.4" r="13"/><circle cx="965.8" cy="622.4" r="13"/><circle cx="299.0" cy="681.5" r="13"/><circle cx="350.3" cy="681.5" r="13"/><circle cx="401.6" cy="681.5" r="13"/><circle cx="452.9" cy="681.5" r="13"/><circle cx="504.2" cy="681.5" r="13"/><circle cx="555.5" cy="681.5" r="13"/><circle cx="606.8" cy="681.5" r="13"/><circle cx="658.0" cy="681.5" r="13"/><circle cx="709.3" cy="681.5" r="13"/><circle cx="760.6" cy="681.5" r="13"/><circle cx="811.9" cy="681.5" r="13"/><circle cx="863.2" cy="681.5" r="13"/><circle cx="914.5" cy="681.5" r="13"/><circle cx="299.0" cy="740.6" r="13"/><circle cx="350.3" cy="740.6" r="13"/><circle cx="401.6" cy="740.6" r="13"/><circle cx="452.9" cy="740.6" r="13"/><circle cx="504.2" cy="740.6" r="13"/><circle cx="555.5" cy="740.6" r="13"/><circle cx="606.8" cy="740.6" r="13"/><circle cx="658.0" cy="740.6" r="13"/><circle cx="709.3" cy="740.6" r="13"/><circle cx="760.6" cy="740.6" r="13"/><circle cx="811.9" cy="740.6" r="13"/><circle cx="863.2" cy="740.6" r="13"/><circle cx="299.0" cy="799.7" r="13"/><circle cx="350.3" cy="799.7" r="13"/><circle cx="401.6" cy="799.7" r="13"/><circle cx="452.9" cy="799.7" r="13"/><circle cx="504.2" cy="799.7" r="13"/><circle cx="555.5" cy="799.7" r="13"/><circle cx="606.8" cy="799.7" r="13"/><circle cx="658.0" cy="799.7" r="13"/><circle cx="709.3" cy="799.7" r="13"/><circle cx="760.6" cy="799.7" r="13"/><circle cx="299.0" cy="858.8" r="13"/><circle cx="350.3" cy="858.8" r="13"/><circle cx="401.6" cy="858.8" r="13"/><circle cx="452.9" cy="858.8" r="13"/><circle cx="504.2" cy="858.8" r="13"/><circle cx="555.5" cy="858.8" r="13"/><circle cx="606.8" cy="858.8" r="13"/><circle cx="658.0" cy="858.8" r="13"/><circle cx="709.3" cy="858.8" r="13"/><circle cx="299.0" cy="917.9" r="13"/><circle cx="350.3" cy="917.9" r="13"/><circle cx="401.6" cy="917.9" r="13"/><circle cx="452.9" cy="917.9" r="13"/><circle cx="504.2" cy="917.9" r="13"/><circle cx="555.5" cy="917.9" r="13"/><circle cx="606.8" cy="917.9" r="13"/><circle cx="299.0" cy="977.0" r="13"/><circle cx="350.3" cy="977.0" r="13"/><circle cx="401.6" cy="977.0" r="13"/><circle cx="452.9" cy="977.0" r="13"/><circle cx="504.2" cy="977.0" r="13"/><circle cx="555.5" cy="977.0" r="13"/><circle cx="299.0" cy="1036.1" r="13"/><circle cx="350.3" cy="1036.1" r="13"/><circle cx="401.6" cy="1036.1" r="13"/><circle cx="452.9" cy="1036.1" r="13"/><circle cx="504.2" cy="1036.1" r="13"/><circle cx="299.0" cy="1095.2" r="13"/><circle cx="350.3" cy="1095.2" r="13"/><circle cx="401.6" cy="1095.2" r="13"/><circle cx="299.0" cy="1154.3" r="13"/><circle cx="350.3" cy="1154.3" r="13"/><circle cx="299.0" cy="1213.4" r="13"/></g>
</g>
<g fill="none" stroke="#000" stroke-width="5.5" stroke-linecap="butt">
<rect x="299" y="90.5" width="1231" height="1182"/>
</g>
<g stroke="#000" stroke-width="5.2"><line x1="299.0" y1="1272" x2="299.0" y2="1297.5"/><line x1="401.6" y1="1272" x2="401.6" y2="1287.0"/><line x1="504.2" y1="1272" x2="504.2" y2="1297.5"/><line x1="606.8" y1="1272" x2="606.8" y2="1287.0"/><line x1="709.3" y1="1272" x2="709.3" y2="1297.5"/><line x1="811.9" y1="1272" x2="811.9" y2="1287.0"/><line x1="914.5" y1="1272" x2="914.5" y2="1297.5"/><line x1="1017.1" y1="1272" x2="1017.1" y2="1287.0"/><line x1="1119.7" y1="1272" x2="1119.7" y2="1297.5"/><line x1="1222.2" y1="1272" x2="1222.2" y2="1287.0"/><line x1="1324.8" y1="1272" x2="1324.8" y2="1297.5"/><line x1="1427.4" y1="1272" x2="1427.4" y2="1287.0"/><line x1="1530.0" y1="1272" x2="1530.0" y2="1297.5"/><line x1="299" y1="1272.5" x2="274.0" y2="1272.5"/><line x1="299" y1="1154.3" x2="285.5" y2="1154.3"/><line x1="299" y1="1036.1" x2="274.0" y2="1036.1"/><line x1="299" y1="917.9" x2="285.5" y2="917.9"/><line x1="299" y1="799.7" x2="274.0" y2="799.7"/><line x1="299" y1="681.5" x2="285.5" y2="681.5"/><line x1="299" y1="563.3" x2="274.0" y2="563.3"/><line x1="299" y1="445.1" x2="285.5" y2="445.1"/><line x1="299" y1="326.9" x2="274.0" y2="326.9"/><line x1="299" y1="208.7" x2="285.5" y2="208.7"/><line x1="299" y1="90.5" x2="274.0" y2="90.5"/></g>
<text transform="translate(299.0,1362.0) scale(1,1.060)" font-family="'Liberation Sans', Arial, sans-serif" font-size="65.5" text-anchor="middle" fill="#000">0</text>
<text transform="translate(504.2,1362.0) scale(1,1.060)" font-family="'Liberation Sans', Arial, sans-serif" font-size="65.5" text-anchor="middle" fill="#000">1000</text>
<text transform="translate(709.3,1362.0) scale(1,1.060)" font-family="'Liberation Sans', Arial, sans-serif" font-size="65.5" text-anchor="middle" fill="#000">2000</text>
<text transform="translate(914.5,1362.0) scale(1,1.060)" font-family="'Liberation Sans', Arial, sans-serif" font-size="65.5" text-anchor="middle" fill="#000">3000</text>
<text transform="translate(1119.7,1362.0) scale(1,1.060)" font-family="'Liberation Sans', Arial, sans-serif" font-size="65.5" text-anchor="middle" fill="#000">4000</text>
<text transform="translate(1324.8,1362.0) scale(1,1.060)" font-family="'Liberation Sans', Arial, sans-serif" font-size="65.5" text-anchor="middle" fill="#000">5000</text>
<text transform="translate(1530.0,1362.0) scale(1,1.060)" font-family="'Liberation Sans', Arial, sans-serif" font-size="65.5" text-anchor="middle" fill="#000">6000</text>
<text transform="translate(261.0,1290.8) scale(1,1.080)" font-family="'Liberation Sans', Arial, sans-serif" font-size="65.5" text-anchor="end" fill="#000">0.0</text>
<text transform="translate(261.0,1054.4) scale(1,1.080)" font-family="'Liberation Sans', Arial, sans-serif" font-size="65.5" text-anchor="end" fill="#000">0.2</text>
<text transform="translate(261.0,818.0) scale(1,1.080)" font-family="'Liberation Sans', Arial, sans-serif" font-size="65.5" text-anchor="end" fill="#000">0.4</text>
<text transform="translate(261.0,581.6) scale(1,1.080)" font-family="'Liberation Sans', Arial, sans-serif" font-size="65.5" text-anchor="end" fill="#000">0.6</text>
<text transform="translate(261.0,345.2) scale(1,1.080)" font-family="'Liberation Sans', Arial, sans-serif" font-size="65.5" text-anchor="end" fill="#000">0.8</text>
<text transform="translate(261.0,108.8) scale(1,1.080)" font-family="'Liberation Sans', Arial, sans-serif" font-size="65.5" text-anchor="end" fill="#000">1.0</text>
<text transform="translate(914.3,1484.7) scale(1,1.020)" font-family="'Liberation Sans', Arial, sans-serif" font-size="79.7" text-anchor="middle" fill="#000">Output Power (W)</text>
<text transform="translate(105.0,734.3) rotate(-90) scale(1,1.020)" font-family="'Liberation Sans', Arial, sans-serif" font-size="79.3" text-anchor="middle" fill="#000">Gain</text>
<text transform="translate(1962.9,668.6) rotate(-90) scale(1,1.020)" font-family="'Liberation Sans', Arial, sans-serif" font-size="79.4" text-anchor="middle" fill="#000">Efficiency</text>
<rect x="1558" y="134.0" width="124" height="99.4" fill="#ff0000"/>
<rect x="1558" y="232.8" width="124" height="99.4" fill="#ff8000"/>
<rect x="1558" y="331.6" width="124" height="99.4" fill="#ffff00"/>
<rect x="1558" y="430.4" width="124" height="99.4" fill="#00ff00"/>
<rect x="1558" y="529.2" width="124" height="99.4" fill="#00ff80"/>
<rect x="1558" y="628.0" width="124" height="99.4" fill="#00ffff"/>
<rect x="1558" y="726.8" width="124" height="99.4" fill="#0080ff"/>
<rect x="1558" y="825.6" width="124" height="99.4" fill="#0000ff"/>
<rect x="1558" y="924.4" width="124" height="99.4" fill="#000080"/>
<rect x="1558" y="1023.2" width="124" height="99.4" fill="#000040"/>
<rect x="1558" y="1122.0" width="124" height="99.4" fill="#000000"/>
<text transform="translate(1697.9,260.5) scale(1,1.060)" font-family="'Liberation Sans', Arial, sans-serif" font-size="66.7" fill="#000">0.98</text>
<text transform="translate(1697.9,359.3) scale(1,1.060)" font-family="'Liberation Sans', Arial, sans-serif" font-size="66.7" fill="#000">0.96</text>
<text transform="translate(1697.9,458.1) scale(1,1.060)" font-family="'Liberation Sans', Arial, sans-serif" font-size="66.7" fill="#000">0.94</text>
<text transform="translate(1697.9,556.9) scale(1,1.060)" font-family="'Liberation Sans', Arial, sans-serif" font-size="66.7" fill="#000">0.92</text>
<text transform="translate(1697.9,655.7) scale(1,1.060)" font-family="'Liberation Sans', Arial, sans-serif" font-size="66.7" fill="#000">0.90</text>
<text transform="translate(1697.9,754.5) scale(1,1.060)" font-family="'Liberation Sans', Arial, sans-serif" font-size="66.7" fill="#000">0.88</text>
<text transform="translate(1697.9,853.3) scale(1,1.060)" font-family="'Liberation Sans', Arial, sans-serif" font-size="66.7" fill="#000">0.86</text>
<text transform="translate(1697.9,952.1) scale(1,1.060)" font-family="'Liberation Sans', Arial, sans-serif" font-size="66.7" fill="#000">0.84</text>
<text transform="translate(1697.9,1050.9) scale(1,1.060)" font-family="'Liberation Sans', Arial, sans-serif" font-size="66.7" fill="#000">0.82</text>
<text transform="translate(1697.9,1149.7) scale(1,1.060)" font-family="'Liberation Sans', Arial, sans-serif" font-size="66.7" fill="#000">0.80</text>
<text transform="translate(1154.8,164.7) scale(1,1.030)" font-family="'Liberation Sans', Arial, sans-serif" font-size="64.3" text-anchor="middle" font-weight="bold" fill="#fff">ZVS Operation</text>
<polygon points="1040.2,175.0 1046.5,175.0 1047.8,176.3 1047.8,182.6 1022.9,210.4 1026.0,213.0 1028.8,216.5 1028.8,220.3 1027.0,221.8 990.5,247.8 985.2,247.8 983.2,245.5 983.2,242.5 1003.0,202.0 1006.3,199.0 1009.7,199.0 1011.5,200.2 1015.6,203.9" fill="#fff"/>
<polygon points="1149.7,938.0 1151.7,931.7 1156.6,931.7 1158.5,933.5 1206.3,1009.7 1211.0,1006.5 1215.0,1006.3 1218.0,1008.5 1220.0,1012.5 1231.6,1050.6 1231.6,1055.5 1229.0,1058.0 1224.8,1058.0 1222.0,1055.5 1194.1,1026.7 1191.2,1025.3 1191.2,1019.4 1197.0,1016.0 1196.5,1013.1" fill="#000"/>
<text transform="translate(1077.0,1099.5) scale(1,1.040)" font-family="'Liberation Sans', Arial, sans-serif" font-size="65" fill="#000">P</text>
<text transform="translate(1120.6,1125.7) scale(1,1.040)" font-family="'Liberation Sans', Arial, sans-serif" font-size="40" fill="#000">LOSS</text>
<text transform="translate(1246.5,1099.5) scale(1,1.040)" font-family="'Liberation Sans', Arial, sans-serif" font-size="67.2" fill="#000">= 120 W</text>
</svg></body></html>
